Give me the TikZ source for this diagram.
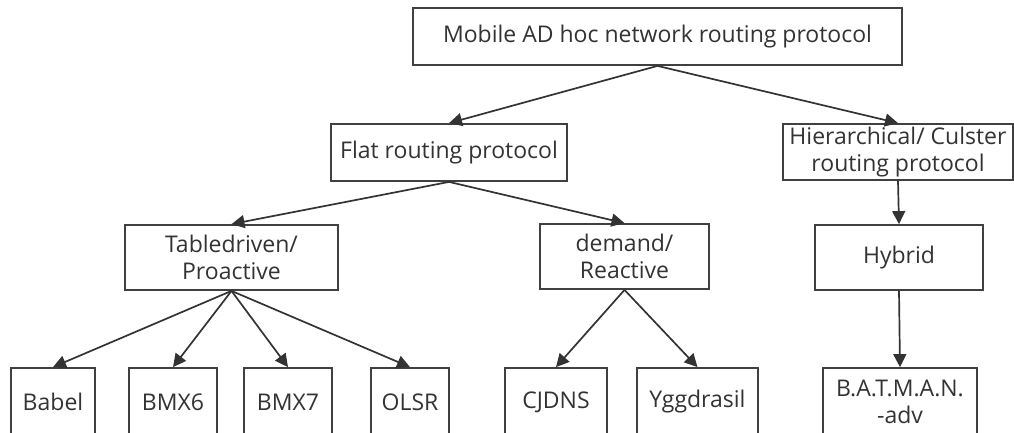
\documentclass[tikz,border=0pt]{standalone}
\usepackage{fontspec}
\setmainfont{Open Sans}
\usetikzlibrary{arrows.meta}

\begin{document}
\begin{tikzpicture}[x=1pt, y=-1pt,
  box/.style={draw=black!75, line width=1.8pt, fill=white, text=black!80,
    align=center, inner sep=0pt, font=\fontsize{23}{27.5}\selectfont},
  link/.style={draw=black!80, line width=1.7pt,
    -{Triangle[width=13pt,length=13pt]}}]
\useasboundingbox (0,0) rectangle (1014,432);
\clip (0,0) rectangle (1014,432);
% levels 0 and 1
\node[box, minimum width=489pt, minimum height=57pt] (root) at (657.5,36.5)
  {Mobile AD hoc network routing protocol};
\node[box, minimum width=236pt, minimum height=57pt] (flat) at (449,152.5)
  {Flat routing protocol};
\node[box, minimum width=230pt, minimum height=56pt] (hier) at (898,152)
  {Hierarchical/ Culster\\routing protocol};
% level 2
\node[box, minimum width=213pt, minimum height=65pt] (table) at (231.5,257.5)
  {Tabledriven/\\Proactive};
\node[box, minimum width=169pt, minimum height=65pt] (demand) at (624.5,256.5)
  {demand/\\Reactive};
\node[box, minimum width=168pt, minimum height=65pt] (hybrid) at (899,257.5)
  {Hybrid};
% level 3, cut by the lower edge
\foreach \name/\x/\w/\txt in {babel/53/84/Babel, bmxsix/173/88/BMX6,
    bmxseven/288/88/BMX7, olsr/410/78/OLSR, cjdns/556/102/CJDNS,
    ygg/697.5/121/Yggdrasil, batman/900/154/{B.A.T.M.A.N.\\-adv}}
  \node[box, minimum width=\w pt, minimum height=68pt] (\name) at (\x,402) {\txt};
% arrows
\draw[link] (root.south) -- (flat.north);
\draw[link] (root.south) -- (hier.north);
\draw[link] (flat.south) -- (table.north);
\draw[link] (flat.south) -- (demand.north);
\draw[link] (hier.south) -- (hybrid.north);
\foreach \leaf in {babel, bmxsix, bmxseven, olsr}
  \draw[link] (table.south) -- (\leaf.north);
\foreach \leaf in {cjdns, ygg}
  \draw[link] (demand.south) -- (\leaf.north);
\draw[link] (hybrid.south) -- (batman.north);
\end{tikzpicture}
\end{document}
